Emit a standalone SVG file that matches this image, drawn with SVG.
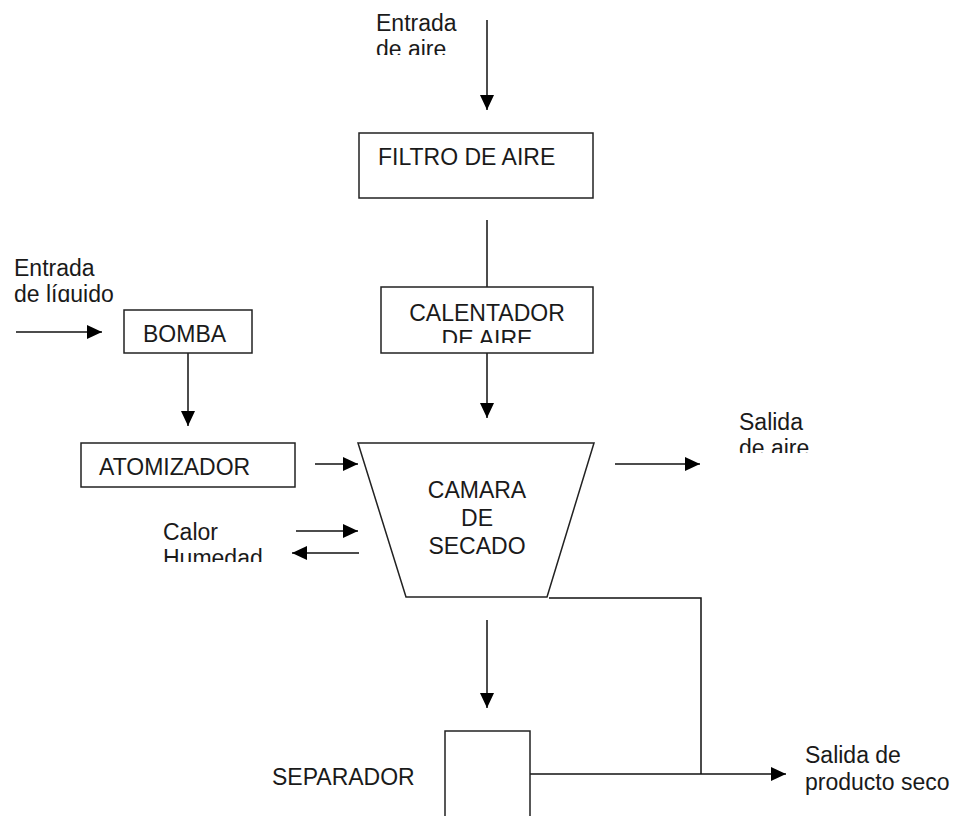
<svg xmlns="http://www.w3.org/2000/svg" width="956" height="816" viewBox="0 0 956 816">
<style>
text{font-family:"Liberation Sans",Arial,sans-serif;font-size:23px;fill:#1a1a1a}
.box{fill:#fff;stroke:#222;stroke-width:1.5}
.ln{fill:none;stroke:#111;stroke-width:1.5}
</style>
<defs>
<marker id="ah" markerUnits="userSpaceOnUse" markerWidth="16" markerHeight="14" refX="15" refY="7" orient="auto">
<path d="M0,0 L15,7 L0,14 Z" fill="#000"/>
</marker>
<clipPath id="c1"><rect x="360" y="0" width="120" height="55"/></clipPath>
<clipPath id="c2"><rect x="0" y="250" width="130" height="52"/></clipPath>
<clipPath id="c3"><rect x="382" y="288" width="210" height="55"/></clipPath>
<clipPath id="c4"><rect x="150" y="510" width="130" height="52"/></clipPath>
<clipPath id="c5"><rect x="720" y="400" width="120" height="53"/></clipPath>
</defs>
<rect width="956" height="816" fill="#fff"/>
<g id="connectors">
<line class="ln" x1="487" y1="20" x2="487" y2="110" marker-end="url(#ah)"/>
<line class="ln" x1="487" y1="220" x2="487" y2="288"/>
<line class="ln" x1="16" y1="332" x2="102" y2="332" marker-end="url(#ah)"/>
<line class="ln" x1="188" y1="353" x2="188" y2="426" marker-end="url(#ah)"/>
<line class="ln" x1="487" y1="353" x2="487" y2="418" marker-end="url(#ah)"/>
<line class="ln" x1="315" y1="464" x2="358" y2="464" marker-end="url(#ah)"/>
<line class="ln" x1="296" y1="531" x2="358" y2="531" marker-end="url(#ah)"/>
<line class="ln" x1="359" y1="553" x2="292" y2="553" marker-end="url(#ah)"/>
<line class="ln" x1="615" y1="464" x2="700" y2="464" marker-end="url(#ah)"/>
<polyline class="ln" points="549,598 701,598 701,774"/>
<line class="ln" x1="487" y1="620" x2="487" y2="708" marker-end="url(#ah)"/>
<line class="ln" x1="530" y1="774" x2="786" y2="774" marker-end="url(#ah)"/>
</g>
<g id="entrada-aire" clip-path="url(#c1)">
<text x="376" y="31">Entrada</text>
<text x="376" y="57">de aire</text>
</g>
<g id="filtro">
<rect class="box" x="359" y="133" width="234" height="65"/>
<text x="378" y="165">FILTRO DE AIRE</text>
</g>
<g id="entrada-liquido" clip-path="url(#c2)">
<text x="14" y="276">Entrada</text>
<text x="14" y="302">de líquido</text>
</g>
<g id="calentador">
<rect class="box" x="381" y="287" width="212" height="66"/>
<g clip-path="url(#c3)">
<text x="487" y="321" text-anchor="middle">CALENTADOR</text>
<text x="487" y="347" text-anchor="middle">DE AIRE</text>
</g>
</g>
<g id="bomba">
<rect class="box" x="124" y="310" width="128" height="43"/>
<text x="143" y="342">BOMBA</text>
</g>
<g id="atomizador">
<rect class="box" x="81" y="443" width="214" height="44"/>
<text x="99" y="475">ATOMIZADOR</text>
</g>
<g id="calor-humedad" clip-path="url(#c4)">
<text x="163" y="540">Calor</text>
<text x="163" y="566">Humedad</text>
</g>
<g id="camara">
<polygon class="box" points="358,443 594,443 547,597 406,597"/>
<text x="477" y="498" text-anchor="middle">CAMARA</text>
<text x="477" y="526" text-anchor="middle">DE</text>
<text x="477" y="554" text-anchor="middle">SECADO</text>
</g>
<g id="salida-aire" clip-path="url(#c5)">
<text x="739" y="430">Salida</text>
<text x="739" y="456">de aire</text>
</g>
<g id="separador">
<polyline class="box" points="445,817 445,731 530,731 530,817"/>
<text x="272" y="785">SEPARADOR</text>
</g>
<g id="salida-producto">
<text x="805" y="763">Salida de</text>
<text x="805" y="790">producto seco</text>
</g>
</svg>
